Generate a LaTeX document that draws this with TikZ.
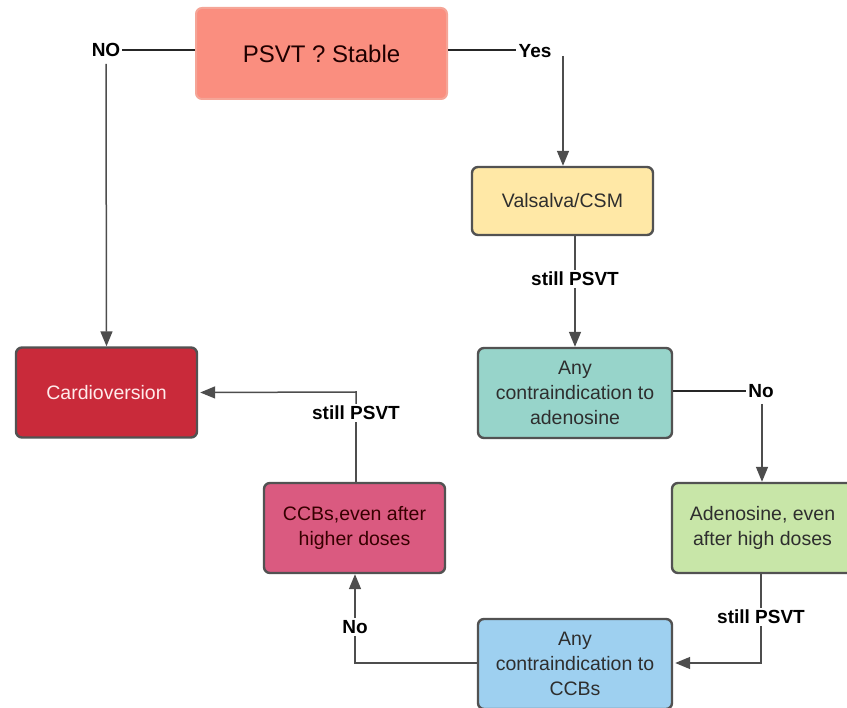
\documentclass[tikz,border=0pt]{standalone}
\usepackage{fontspec}
\setmainfont{Liberation Sans}
\usetikzlibrary{arrows.meta,calc}
\definecolor{edgegray}{HTML}{525252}
\definecolor{arrgray}{HTML}{4D4D4D}
\definecolor{cpsvt}{HTML}{FA8E7F}
\definecolor{cpsvtedge}{HTML}{F5A597}
\definecolor{cvals}{HTML}{FFE8A6}
\definecolor{cadcontra}{HTML}{97D4CA}
\definecolor{caden}{HTML}{C8E6A8}
\definecolor{cccbcontra}{HTML}{9ED0F0}
\definecolor{cccb}{HTML}{DA5A80}
\definecolor{ccardio}{HTML}{C92A3A}
\definecolor{txtdark}{HTML}{2E2E2E}
\begin{document}
\begin{tikzpicture}[x=1pt,y=-1pt,
  box/.style={draw=edgegray, line width=2.4pt, rounded corners=6pt, align=center,
    minimum width=181pt, minimum height=90pt, inner sep=2pt,
    font=\fontsize{19.5}{25}\selectfont, text=txtdark},
  lbl/.style={fill=white, inner sep=2pt, font=\fontsize{19}{22}\selectfont\bfseries, text=black},
  conn/.style={draw=arrgray, line width=1.5pt},
  arr/.style={conn, -{Triangle[length=15pt,width=12pt]}, arrgray}
]
\useasboundingbox (0,0) rectangle (847,708);
\begin{scope}
\clip (0,0) rectangle (847,708);
% boxes
\node[box, draw=cpsvtedge, line width=2pt, fill=cpsvt, minimum width=251pt, minimum height=91pt,
  font=\fontsize{24}{28}\selectfont, text=black!80!red!60!black] (psvt) at (321.5,53.5) {PSVT ? Stable};
\node[box, fill=cvals, minimum height=68pt] (vals) at (562.5,201) {Valsalva/CSM};
\node[box, fill=cadcontra, minimum width=194pt] (adcontra) at (575,393) {Any\\contraindication to\\adenosine};
\node[box, fill=caden] (aden) at (762.5,528) {Adenosine, even\\after high doses};
\node[box, fill=cccbcontra, minimum width=194pt] (ccbcontra) at (575,664) {Any\\contraindication to\\CCBs};
\node[box, fill=cccb, text=black!70!red!70!black] (ccb) at (354.5,528) {CCBs,even after\\higher doses};
\node[box, fill=ccardio, text=white!92!red] (cardio) at (106.5,392.5) {Cardioversion};
\end{scope}
% labels
\node[lbl, fill=none] (no1) at (106,50) {NO};
\node[lbl, fill=none] (yes) at (535,51) {Yes};
\node[lbl] (still1) at (575,279) {still PSVT};
\node[lbl, fill=none] (no2) at (761,391) {No};
\node[lbl] (still2) at (761,617) {still PSVT};
\node[lbl] (no3) at (355,627) {No};
\node[lbl] (still3) at (356,413) {still PSVT};
% connectors
\draw[conn, draw=black!85] (psvt.west |- 0,50) -- (no1.east |- 0,50);
\draw[arr] (no1.south) ++(0,5) -- (cardio.north);
\draw[conn, draw=black!85] (psvt.east |- 0,50) -- (yes.west |- 0,50);
\coordinate (ycorner) at (563,56);
\draw[arr] (ycorner) -- (vals.north -| ycorner);
\draw[conn] (vals.south -| adcontra.north) -- (still1.north);
\draw[arr] (still1.south) -- (adcontra.north);
\draw[conn, draw=black!85] (adcontra.east |- 0,391) -- (no2.west |- 0,391);
\draw[arr] (no2.south -| 762,0) ++(0,4) -- (aden.north -| 762,0);
\draw[conn] (aden.south -| still2.north) -- (still2.north);
\draw[arr] (still2.south) -- (761,663) -- ([xshift=2pt]ccbcontra.east |- 0,663);
\draw[conn] (ccbcontra.west |- 0,663) -- (355,663) -- (no3.south);
\draw[arr] (no3.north) -- (ccb.south -| no3.north);
\draw[conn] (ccb.north -| still3.south) -- (still3.south);
\draw[arr] (still3.north) -- (356,392) -- ([xshift=2pt]cardio.east);
\end{tikzpicture}
\end{document}
